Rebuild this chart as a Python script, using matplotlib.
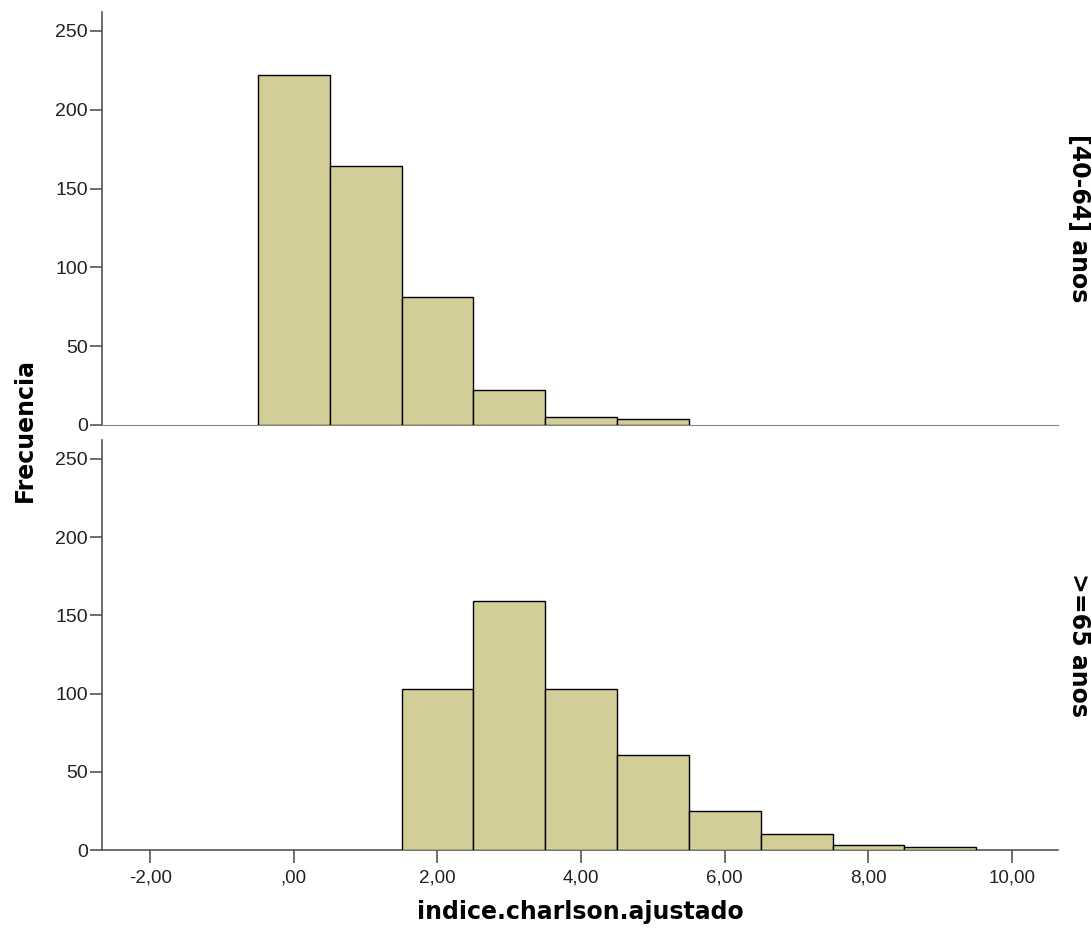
import matplotlib
matplotlib.use("Agg")
import matplotlib.pyplot as plt
import numpy as np

plt.rcParams['font.family'] = ['Liberation Sans', 'DejaVu Sans']

bin_centers = [0, 1, 2, 3, 4, 5, 6, 7, 8, 9]
counts_40_64 = [222, 164, 81, 22, 5, 4, 0, 0, 0, 0]
counts_65 = [0, 0, 103, 159, 103, 61, 25, 10, 3, 2]
panel_labels = ["[40-64] anos", ">=65 anos"]
x_ticks = [-2, 0, 2, 4, 6, 8, 10]
x_tick_labels = ["-2,00", ",00", "2,00", "4,00", "6,00", "8,00", "10,00"]
y_ticks = [0, 50, 100, 150, 200, 250]

bar_color = "#D3CE97"
title_font = dict(family=['DejaVu Sans'], fontweight='bold', fontsize=17)

fig = plt.figure(figsize=(10.91, 9.35), dpi=100)
ax1 = fig.add_axes([0.0935, 0.5455, 0.8763, 0.4417])
ax2 = fig.add_axes([0.0935, 0.0909, 0.8763, 0.4385])

for ax, counts, lab in [(ax1, counts_40_64, panel_labels[0]), (ax2, counts_65, panel_labels[1])]:
    xs = [c for c, v in zip(bin_centers, counts) if v > 0]
    vs = [v for v in counts if v > 0]
    ax.bar(xs, vs, width=1.0, color=bar_color, edgecolor="black", linewidth=1.0, zorder=3)
    ax.set_xlim(-2.67, 10.64)
    ax.set_ylim(0, 262)
    ax.set_yticks(y_ticks)
    ax.set_yticklabels([str(t) for t in y_ticks], fontsize=14, color="#222222")
    ax.spines['top'].set_visible(False)
    ax.spines['right'].set_visible(False)
    ax.spines['left'].set_color("#555555")
    ax.spines['bottom'].set_color("#888888")
    ax.spines['left'].set_linewidth(1.2)
    ax.tick_params(axis='y', direction='out', length=9, width=1.2, color="#555555", pad=1)
    ax.text(1.0095, 0.5, lab, transform=ax.transAxes, rotation=-90, ha='left', va='center',
            **title_font)

ax1.set_xticks([])
ax2.spines['bottom'].set_color("#555555")
ax2.spines['bottom'].set_linewidth(1.2)
ax2.set_xticks(x_ticks)
ax2.set_xticklabels(x_tick_labels, fontsize=13.5, color="#222222")
ax2.tick_params(axis='x', direction='out', length=9, width=1.2, color="#555555", pad=5)
ax2.set_xlabel("indice.charlson.ajustado", labelpad=10, **title_font)

fig.text(0.023, 0.54, "Frecuencia", rotation=90, ha='center', va='center', **title_font)

fig.savefig("out.png", dpi=100)
